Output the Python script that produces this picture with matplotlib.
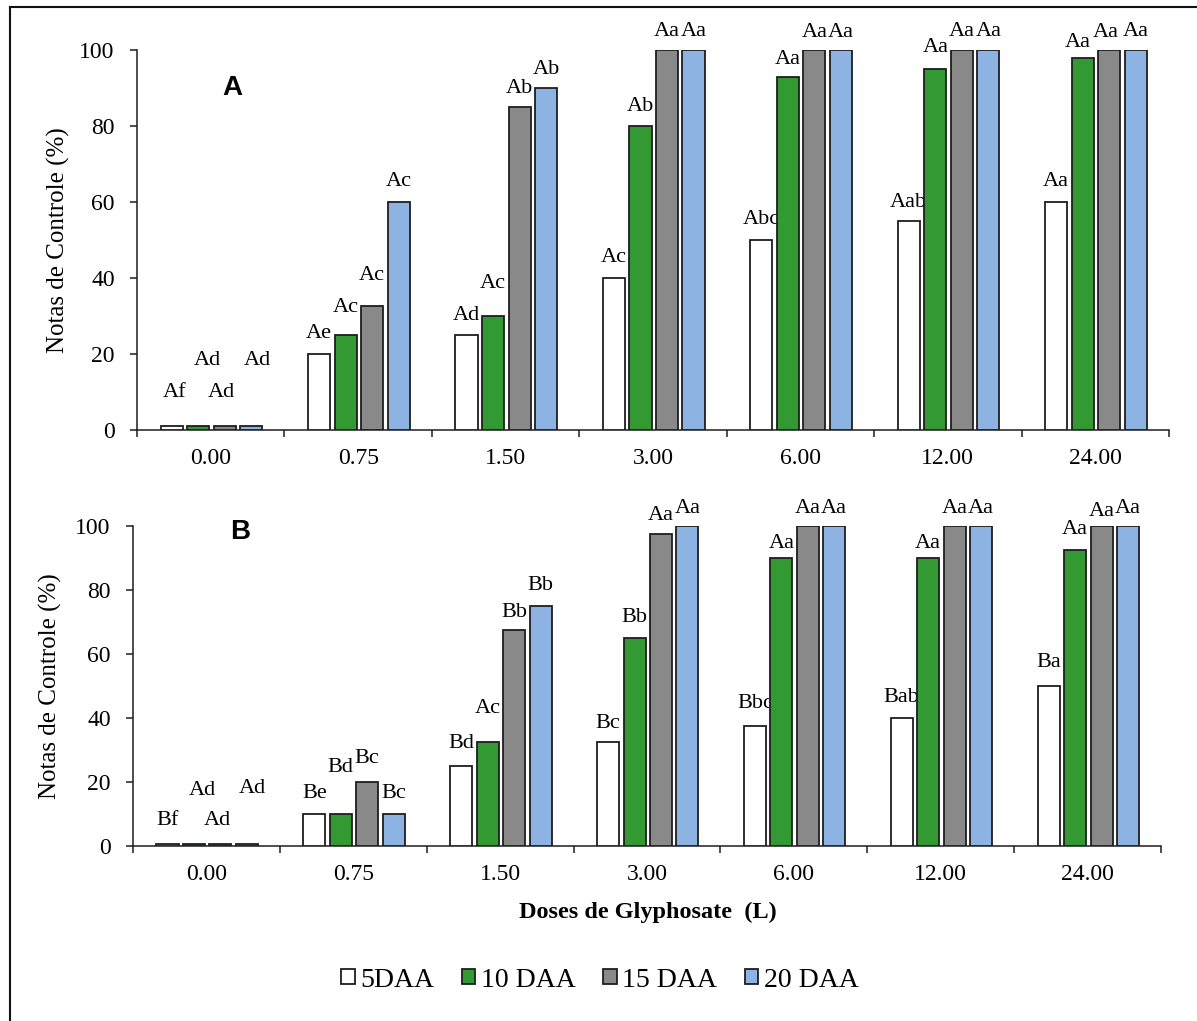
import matplotlib
matplotlib.use("Agg")
import matplotlib.pyplot as plt
import numpy as np
from matplotlib.patches import Patch
from matplotlib.lines import Line2D

# ---------------- data ----------------
doses = ["0.00", "0.75", "1.50", "3.00", "6.00", "12.00", "24.00"]
series = ["5DAA", "10 DAA", "15 DAA", "20 DAA"]

A_5daa = [1, 20, 25, 40, 50, 55, 60]
A_10daa = [1, 25, 30, 80, 93, 95, 98]
A_15daa = [1, 32.5, 85, 100, 100, 100, 100]
A_20daa = [1, 60, 90, 100, 100, 100, 100]

B_5daa = [0.5, 10, 25, 32.5, 37.5, 40, 50]
B_10daa = [0.5, 10, 32.5, 65, 90, 90, 92.5]
B_15daa = [0.5, 20, 67.5, 97.5, 100, 100, 100]
B_20daa = [0.5, 10, 75, 100, 100, 100, 100]

A_lab_5daa = ["Af", "Ae", "Ad", "Ac", "Abc", "Aab", "Aa"]
A_lab_10daa = ["Ad", "Ac", "Ac", "Ab", "Aa", "Aa", "Aa"]
A_lab_15daa = ["Ad", "Ac", "Ab", "Aa", "Aa", "Aa", "Aa"]
A_lab_20daa = ["Ad", "Ac", "Ab", "Aa", "Aa", "Aa", "Aa"]

B_lab_5daa = ["Bf", "Be", "Bd", "Bc", "Bbc", "Bab", "Ba"]
B_lab_10daa = ["Ad", "Bd", "Ac", "Bb", "Aa", "Aa", "Aa"]
B_lab_15daa = ["Ad", "Bc", "Bb", "Aa", "Aa", "Aa", "Aa"]
B_lab_20daa = ["Ad", "Bc", "Bb", "Aa", "Aa", "Aa", "Aa"]

yticks = [0, 20, 40, 60, 80, 100]

# ---------------- style ----------------
colors = ["#ffffff", "#339933", "#898989", "#8db3e2"]
edge = "#1e1e1e"
serif = ["Liberation Serif", "DejaVu Serif"]
plt.rcParams["font.family"] = serif

# label offsets above bar tops, in pixels (per series, per dose)
offA = [[34, 21, 20, 20, 20, 18, 20],
        [66, 28, 32, 19, 17, 21, 15],
        [34, 31, 18, 18, 17, 18, 17],
        [66, 20, 18, 18, 17, 18, 18]]
offB = [[24, 21, 23, 19, 23, 21, 24],
        [54, 47, 34, 21, 15, 15, 20],
        [24, 24, 18, 19, 18, 18, 14],
        [56, 21, 21, 18, 18, 18, 18]]
# small horizontal shifts of labels, in pixels
dxA = [[3, 0, 0, 0, 0, 0, 0],
       [9, 0, 0, 0, 0, 0, -5],
       [-3, 0, 0, 0, 0, 0, -4],
       [6, 0, 0, 0, 0, 0, 0]]
dxB = [[0, 0, 0, 0, 0, 0, 0],
       [8, 0, 0, 0, 0, 0, 0],
       [-3, 0, 0, 0, 0, 0, 0],
       [6, 0, 0, 0, 0, 0, 0]]

W, H = 1197, 1021
fig = plt.figure(figsize=(W / 100, H / 100), dpi=100)

def px_rect(x0, y0, x1, y1):
    return [x0 / W, 1 - y1 / H, (x1 - x0) / W, (y1 - y0) / H]

axA = fig.add_axes(px_rect(137, 50, 1169, 430))
axB = fig.add_axes(px_rect(133, 526, 1161, 846))

panels = [
    (axA, [A_5daa, A_10daa, A_15daa, A_20daa],
     [A_lab_5daa, A_lab_10daa, A_lab_15daa, A_lab_20daa], offA, dxA, "A", (232, 88), (58, 240)),
    (axB, [B_5daa, B_10daa, B_15daa, B_20daa],
     [B_lab_5daa, B_lab_10daa, B_lab_15daa, B_lab_20daa], offB, dxB, "B", (240, 532), (50, 686)),
]

x = np.arange(len(doses))
bw = 0.15
step = 0.18
for ax, vals, labs, offs, dxs, letter, lpos, ylpos in panels:
    for i, (v, lab, off, dx) in enumerate(zip(vals, labs, offs, dxs)):
        xi = x + (i - 1.5) * step + 0.005
        ax.bar(xi, v, width=bw, color=colors[i], edgecolor=edge, linewidth=1.3, zorder=3)
        for xx, vv, tt, oo, dd in zip(xi, v, lab, off, dx):
            ax.annotate(tt, xy=(xx, vv), xytext=(dd * 0.72, oo * 0.72), textcoords="offset points",
                        ha="center", va="center", fontsize=16, annotation_clip=False,
                        family=serif)
    ax.set_xlim(-0.5, len(doses) - 0.5)
    ax.set_ylim(0, 100)
    ax.set_yticks(yticks)
    ax.set_xticks(x)
    ax.set_xticklabels(doses, fontsize=17)
    ax.set_xticks(np.arange(-0.5, len(doses)), minor=True)
    ax.tick_params(axis="x", which="major", length=0, pad=13)
    ax.tick_params(axis="x", which="minor", length=5, width=1.1, color=edge, direction="out")
    ax.tick_params(axis="y", length=5, width=1.1, color=edge, direction="out", pad=11, labelsize=17)
    for s in ["top", "right"]:
        ax.spines[s].set_visible(False)
    for s in ["left", "bottom"]:
        ax.spines[s].set_linewidth(1.1)
        ax.spines[s].set_color(edge)
    fig.text(lpos[0] / W, 1 - lpos[1] / H, letter, fontsize=20, fontweight="bold",
             family=["Liberation Sans", "DejaVu Sans"], ha="center", va="center")
    fig.text(ylpos[0] / W, 1 - ylpos[1] / H, "Notas de Controle (%)", rotation=90,
             fontsize=18, ha="center", va="center")

fig.text(648 / W, 1 - 912 / H, "Doses de Glyphosate  (L)", fontsize=17.5,
         fontweight="bold", ha="center", va="center")

handles = [Patch(facecolor=c, edgecolor=edge, linewidth=1.3) for c in colors]
fig.legend(handles, series, loc="center", bbox_to_anchor=(600 / W, 1 - 980 / H),
           ncol=4, frameon=False, fontsize=20, handlelength=0.48, handleheight=0.48,
           handletextpad=0.2, columnspacing=1.0, borderpad=0)

# outer frame
fx = 10 / W
fy = 1 - 7 / H
fig.add_artist(Line2D([fx, fx], [0, fy], transform=fig.transFigure, color="#111111", linewidth=1.5))
fig.add_artist(Line2D([fx, 1], [fy, fy], transform=fig.transFigure, color="#111111", linewidth=1.5))

fig.savefig("out.png", dpi=100)
